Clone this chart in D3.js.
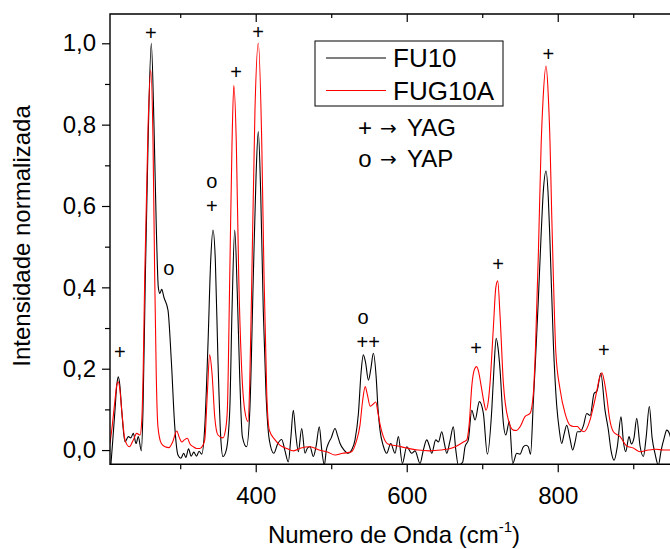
<!DOCTYPE html>
<html>
<head>
<meta charset="utf-8">
<script src="https://cdn.jsdelivr.net/npm/d3@7"></script>
<style>
  html, body { margin: 0; padding: 0; background: #fff; }
  svg { display: block; font-family: "Liberation Sans", Arial, sans-serif; }
</style>
</head>
<body>
<svg id="chart" width="670" height="549"></svg>
<script>
// Raman spectra (wavenumber cm^-1, normalised intensity)
const fu10 = [
  [208,-0.04],[210.5,0.02],[213.6,0.098],[216,0.16],[218,0.18],[220,0.16],[222.5,0.098],[226.9,0.02],
  [231.3,0.033],[234.5,0.03],[237.9,0.041],[241.5,0.016],[244.5,0.033],[248.5,-0.002],[250.7,0.098],
  [253.8,0.426],[257.4,0.754],[261.7,1.0],[265.3,0.795],[268.3,0.549],[271,0.4],[273,0.385],[275.5,0.395],
  [278.5,0.375],[283.8,0.344],[288.2,0.22],[292.7,0.06],[297,-0.012],[301,-0.02],[304.5,-0.008],
  [307.5,-0.018],[311,0.003],[314.5,-0.015],[318,-0.005],[321.5,-0.015],[325,-0.003],[328.5,-0.01],
  [332.5,0.057],[336.8,0.262],[340.4,0.467],[343.4,0.541],[346.5,0.467],[350,0.22],[353.6,0.033],
  [356.6,-0.016],[361,0.0],[365.6,0.098],[368.6,0.344],[372.2,0.541],[375.6,0.385],[378.8,0.18],
  [382.3,0.033],[387.8,0.008],[392.2,0.098],[396.8,0.426],[400.4,0.672],[403.4,0.783],[406.6,0.631],
  [410,0.344],[413.6,0.139],[418,0.025],[423.9,-0.008],[429,0.015],[434.4,0.026],[438.5,0.0],
  [443.2,-0.029],[446.5,0.03],[449.8,0.098],[453,0.04],[456.4,-0.004],[460.9,0.053],[465.3,-0.008],
  [468.5,0.005],[471.9,0.008],[476.3,-0.016],[480,0.01],[484.2,0.057],[487.5,0.0],[490.9,-0.037],
  [493.5,0.0],[496.2,0.016],[500,0.03],[505,0.053],[508.5,0.035],[511.7,0.016],[517,0.0],[522.6,-0.008],
  [527,0.0],[531.5,0.025],[536,0.09],[539.5,0.19],[542.5,0.234],[545.5,0.215],[549.2,0.172],[552.5,0.2],
  [555.8,0.238],[559.5,0.18],[562,0.1],[564.6,0.049],[569,0.01],[573.5,-0.008],[578.8,0.016],
  [584.5,-0.008],[588.9,0.033],[594.2,-0.033],[600,0.008],[606.6,-0.008],[611,-0.002],[617.6,-0.033],
  [622,0.0],[626.5,0.025],[630,0.01],[633.1,-0.008],[638.4,0.025],[642,0.02],[646.4,0.045],[650,0.015],
  [653,-0.008],[657,0.02],[661.7,0.057],[665,0.0],[668.3,-0.037],[674,-0.03],[677.2,0.008],[681.6,0.025],
  [686.1,0.098],[690.5,0.074],[696.2,0.119],[701.5,0.09],[706.8,-0.01],[712.6,0.098],[715.5,0.2],
  [718.5,0.275],[721,0.25],[723.6,0.197],[728,0.066],[731.1,0.037],[735.9,0.07],[740.4,-0.033],
  [745.7,-0.008],[750,-0.01],[754.4,0.008],[758,0.012],[761,0.008],[764,-0.01],[767.7,0.12],[770.5,0.22],
  [774.3,0.37],[778,0.53],[781,0.639],[784.5,0.686],[787.5,0.62],[789.8,0.508],[794.2,0.262],[798.6,0.11],
  [802,0.05],[805.2,0.016],[808.5,0.04],[811.9,0.061],[816,0.03],[819.8,0.0],[823,0.02],[826,0.045],
  [830,0.045],[834,0.06],[838.4,0.09],[843,0.085],[848.1,0.139],[852,0.145],[857,0.189],[862.6,0.098],
  [867,0.05],[870.5,0.0],[874.6,-0.025],[879,0.01],[883.8,0.082],[887,0.02],[890,-0.004],[894.4,0.033],
  [897.5,0.015],[901,0.03],[904.6,0.078],[909,0.01],[913.4,-0.016],[917,0.03],[921.3,0.107],[925,0.03],
  [929,-0.01],[933.2,-0.037],[937,0.0],[941,0.03],[944.4,0.049],[948,0.04],[952,0.01]
];

const fug10a = [
  [207,0.016],[210,0.06],[213.6,0.123],[216,0.16],[218,0.168],[220,0.15],[222.5,0.098],[226.9,0.025],
  [232.6,0.008],[237.9,0.025],[242.4,0.041],[246.8,0.037],[249,0.07],[251,0.2],[253,0.426],[257.4,0.795],
  [260.9,0.934],[264,0.754],[266.2,0.426],[268.3,0.18],[270.5,0.057],[275,0.016],[280,0.008],[285,0.006],
  [290,0.02],[295.4,0.047],[299,0.03],[302,0.02],[305.5,0.025],[309.4,0.029],[313,0.015],[317.4,0.008],
  [322,0.004],[326.2,0.004],[329.5,0.01],[332.5,0.025],[335.9,0.139],[339,0.234],[342.1,0.189],
  [345.7,0.082],[350,0.037],[356.6,0.03],[360,0.05],[362.4,0.098],[365.6,0.426],[368.6,0.754],[371,0.897],
  [374.3,0.754],[377.5,0.426],[380.9,0.22],[385.4,0.098],[389.8,0.07],[392,0.16],[394.5,0.39],[399,0.836],
  [403.4,1.0],[408,0.754],[411,0.426],[414.6,0.139],[418,0.049],[425.6,0.025],[432,0.012],[441,0.004],
  [450,-0.002],[460,0.005],[472,0.008],[484,0.0],[495,-0.005],[505,-0.012],[515,-0.008],[527,-0.004],
  [533,0.02],[538,0.06],[541.5,0.12],[545,0.156],[548,0.135],[551.5,0.108],[555,0.112],[559,0.118],
  [562,0.09],[565,0.06],[569,0.033],[575,0.015],[588,0.01],[600,0.005],[615,0.0],[630,-0.002],[645,0.0],
  [660,0.005],[668,0.012],[675,0.02],[679.5,0.025],[683,0.07],[686.1,0.156],[690,0.2],[692.7,0.205],
  [695.5,0.19],[698,0.164],[702,0.12],[705,0.098],[708,0.12],[710.3,0.164],[714.7,0.3],[718,0.4],
  [720.5,0.416],[723.6,0.33],[728,0.164],[734.6,0.074],[741.2,0.049],[745,0.048],[750,0.057],
  [756.6,0.082],[763.3,0.09],[767.7,0.139],[770.5,0.25],[774.3,0.48],[778,0.75],[780.5,0.86],
  [784.5,0.944],[787.5,0.87],[789.8,0.754],[792,0.58],[794.2,0.426],[797.5,0.24],[803,0.15],[809.7,0.09],
  [816.3,0.061],[821,0.058],[826,0.058],[830,0.05],[835,0.045],[842.8,0.074],[847,0.105],[851.7,0.145],
  [855,0.175],[858.5,0.19],[861.5,0.17],[864.9,0.131],[868.4,0.08],[873.7,0.045],[882.6,0.033],
  [891.4,0.01],[900,0.005],[909,-0.004],[920,0.0],[930,0.002],[940,0.0],[952,0.0]
];

// phase assignments: "+" = YAG, "o" = YAP (x, y give the symbol centre)
const peakMarks = [
  { x: 220, y: 0.24, s: "+" },
  { x: 261, y: 1.025, s: "+" },
  { x: 285, y: 0.447, s: "o" },
  { x: 342, y: 0.661, s: "o" },
  { x: 342, y: 0.600, s: "+" },
  { x: 374, y: 0.929, s: "+" },
  { x: 403, y: 1.027, s: "+" },
  { x: 542, y: 0.326, s: "o" },
  { x: 549, y: 0.265, s: "++" },
  { x: 692, y: 0.25, s: "+" },
  { x: 721, y: 0.457, s: "+" },
  { x: 787.5, y: 0.973, s: "+" },
  { x: 861, y: 0.246, s: "+" }
];

const xMajorTicks = [400, 600, 800];
const xMinorTicks = [300, 500, 700, 900];
const yMajorTicks = [0, 0.2, 0.4, 0.6, 0.8, 1.0];
const yMinorTicks = [0.1, 0.3, 0.5, 0.7, 0.9];

const seriesNames = ["FU10", "FUG10A"];
const seriesColors = ["#000000", "#ff0000"];

const svg = d3.select("#chart");
const plotLeft = 110, plotRight = 671, plotTop = 14, plotBottom = 464.3;

const x = d3.scaleLinear().domain([207, 950]).range([plotLeft, plotRight]);
const y = d3.scaleLinear().domain([-0.035, 1.072]).range([plotBottom, plotTop]);

const fmt = d => d3.format(".1f")(d).replace(".", ",");

// clip for spectra
svg.append("defs").append("clipPath").attr("id", "plotClip")
  .append("rect").attr("x", plotLeft).attr("y", plotTop)
  .attr("width", plotRight - plotLeft).attr("height", plotBottom - plotTop);

const line = d3.line().x(d => x(d[0])).y(d => y(d[1])).curve(d3.curveMonotoneX);

const plot = svg.append("g").attr("clip-path", "url(#plotClip)");
[fu10, fug10a].forEach((data, i) => {
  plot.append("path").datum(data)
    .attr("fill", "none")
    .attr("stroke", seriesColors[i])
    .attr("stroke-width", 1.1)
    .attr("stroke-linejoin", "round")
    .attr("d", line);
});

// axes
function styleAxis(g) {
  g.select(".domain").remove();
  g.selectAll(".tick line").attr("stroke", "#000").attr("stroke-width", 1.2);
  g.selectAll(".tick text").attr("fill", "#000").attr("font-size", 24)
    .attr("font-family", "'Liberation Sans', Arial, sans-serif");
}

svg.append("g").attr("transform", `translate(0,${plotBottom})`)
  .call(d3.axisBottom(x).tickValues(xMajorTicks).tickSize(8).tickPadding(15).tickFormat(d3.format("d")))
  .call(styleAxis);
svg.append("g").attr("transform", `translate(0,${plotBottom})`)
  .call(d3.axisBottom(x).tickValues(xMinorTicks).tickSize(5).tickFormat(""))
  .call(styleAxis);
svg.append("g").attr("transform", `translate(0,${plotTop})`)
  .call(d3.axisBottom(x).tickValues(xMajorTicks).tickSize(8).tickFormat(""))
  .call(styleAxis);
svg.append("g").attr("transform", `translate(0,${plotTop})`)
  .call(d3.axisBottom(x).tickValues(xMinorTicks).tickSize(4).tickFormat(""))
  .call(styleAxis);

svg.append("g").attr("transform", `translate(${plotLeft},0)`)
  .call(d3.axisLeft(y).tickValues(yMajorTicks).tickSize(8).tickPadding(6).tickFormat(fmt))
  .call(styleAxis);
svg.append("g").attr("transform", `translate(${plotLeft},0)`)
  .call(d3.axisLeft(y).tickValues(yMinorTicks).tickSize(5).tickFormat(""))
  .call(styleAxis);

// frame
svg.append("path")
  .attr("d", `M${plotRight},${plotTop}H${plotLeft}V${plotBottom}H${plotRight}`)
  .attr("fill", "none").attr("stroke", "#000").attr("stroke-width", 1.4);

// peak assignment marks
svg.append("g").selectAll("text").data(peakMarks).join("text")
  .attr("x", d => x(d.x)).attr("y", d => y(d.y) + 7)
  .attr("text-anchor", "middle")
  .attr("font-size", 20).attr("fill", "#000")
  .text(d => d.s);

// legend
const lg = svg.append("g");
lg.append("rect").attr("x", 315).attr("y", 41).attr("width", 188).attr("height", 65)
  .attr("fill", "#fff").attr("stroke", "#000").attr("stroke-width", 1);
seriesNames.forEach((name, i) => {
  const cy = 58 + i * 32.5;
  lg.append("line").attr("x1", 326).attr("x2", 386).attr("y1", cy).attr("y2", cy)
    .attr("stroke", seriesColors[i]).attr("stroke-width", 1.1);
  lg.append("text").attr("x", 393).attr("y", cy + 9.3)
    .attr("font-size", 26).attr("fill", "#000").text(name);
});

// key for the marks
const key = [["+", "YAG", 136], ["o", "YAP", 167]];
key.forEach(([sym, phase, base]) => {
  svg.append("text").attr("x", 365).attr("y", base).attr("text-anchor", "middle")
    .attr("font-size", 24).text(sym);
  svg.append("text").attr("x", 380).attr("y", base - 1).attr("font-size", 20)
    .attr("font-family", "'DejaVu Sans', sans-serif").text("\u2192");
  svg.append("text").attr("x", 407).attr("y", base).attr("font-size", 24).text(phase);
});

// axis titles
svg.append("text")
  .attr("transform", "translate(30,236) rotate(-90)")
  .attr("text-anchor", "middle").attr("font-size", 24).attr("fill", "#000")
  .text("Intensidade normalizada");

const xt = svg.append("text").attr("x", 394).attr("y", 543)
  .attr("text-anchor", "middle").attr("font-size", 24).attr("fill", "#000");
xt.append("tspan").text("Numero de Onda (cm");
xt.append("tspan").attr("font-size", 15).attr("dy", -11).text("-1");
xt.append("tspan").attr("dy", 11).text(")");
</script>
</body>
</html>
